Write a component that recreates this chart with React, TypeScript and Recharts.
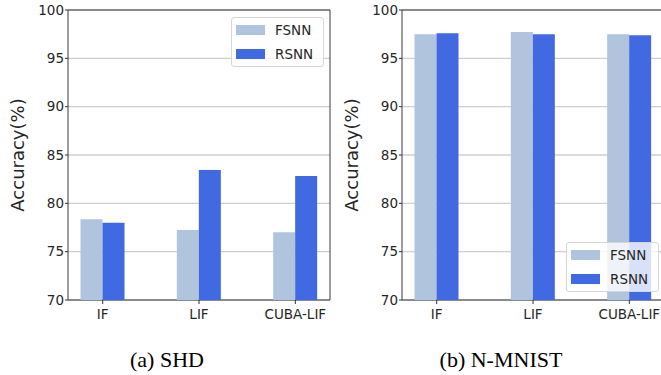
import React from "react"
import { BarChart, Bar, XAxis, YAxis, CartesianGrid, ReferenceArea, Legend } from "recharts"

const categories = ["IF", "LIF", "CUBA-LIF"]
const seriesNames = ["FSNN", "RSNN"]
const seriesColors = ["#b0c4de", "#4169e1"]

const shdFsnn = [78.35, 77.24, 77.0]
const shdRsnn = [78.0, 83.45, 82.83]
const nmnistFsnn = [97.49, 97.72, 97.49]
const nmnistRsnn = [97.59, 97.49, 97.38]

const yTicks = [70, 75, 80, 85, 90, 95, 100]
const xTicks = [0, 1, 2]
const xDomain: [number, number] = [-0.36, 2.36]
const yDomain: [number, number] = [70, 100]

const font = "'DejaVu Sans', sans-serif"
const textColor = "#262626"

const buildRows = (fsnn: number[], rsnn: number[]) =>
  categories.map((name, i) => ({ x: i, name, FSNN: fsnn[i], RSNN: rsnn[i] }))

const LegendBox = () => (
  <div
    style={{
      width: 91,
      height: 48,
      border: "1px solid #d6d6d6",
      borderRadius: 3,
      background: "rgba(255,255,255,0.8)",
      fontFamily: font,
      fontSize: 13.5,
      color: textColor,
      position: "relative",
    }}
  >
    {seriesNames.map((s, i) => (
      <div key={s} style={{ position: "absolute", left: 4, top: 6 + i * 23.5, height: 12, display: "flex", alignItems: "center" }}>
        <div style={{ width: 29, height: 10, background: seriesColors[i] }} />
        <span style={{ marginLeft: 10, lineHeight: "12px" }}>{s}</span>
      </div>
    ))}
  </div>
)

function AccuracyPanel({ fsnn, rsnn, legendPos }: { fsnn: number[]; rsnn: number[]; legendPos: { left: number; top: number } }) {
  const rows = buildRows(fsnn, rsnn)
  return (
    <BarChart width={340} height={330} data={rows} margin={{ top: 10, right: 10, left: 0, bottom: 0 }} barGap={0}>
      <CartesianGrid vertical={false} stroke="#cfcfcf" strokeWidth={1.3} />
      <XAxis
        dataKey="x"
        type="number"
        domain={xDomain}
        ticks={xTicks}
        allowDataOverflow
        height={30}
        tickSize={4}
        tickMargin={5}
        axisLine={false}
        tickLine={{ stroke: "#333" }}
        tick={{ fill: textColor, fontSize: 13.5, fontFamily: font }}
        tickFormatter={(v: number) => categories[v] ?? ""}
      />
      <YAxis
        type="number"
        domain={yDomain}
        ticks={yTicks}
        allowDataOverflow
        width={68}
        tickSize={3}
        tickMargin={1}
        axisLine={false}
        tickLine={{ stroke: "#333" }}
        tick={{ fill: textColor, fontSize: 13.5, fontFamily: font }}
        label={{
          content: (props: any) => {
            const vb = props.viewBox || { x: 0, y: 10, width: 68, height: 290 }
            const cx = vb.x + 17
            const cy = vb.y + vb.height / 2
            return (
              <text
                x={cx}
                y={cy}
                transform={`rotate(-90, ${cx}, ${cy})`}
                textAnchor="middle"
                dominantBaseline="central"
                fontSize={18}
                fontFamily={font}
                fill={textColor}
              >
                Accuracy(%)
              </text>
            )
          },
        }}
      />
      {seriesNames.map((s, i) => (
        <Bar key={s} dataKey={s} fill={seriesColors[i]} barSize={22} isAnimationActive={false} />
      ))}
      <ReferenceArea
        x1={xDomain[0]}
        x2={xDomain[1]}
        y1={yDomain[0]}
        y2={yDomain[1]}
        fill="none"
        stroke="#3a3a3a"
        strokeWidth={1}
        ifOverflow="visible"
      />
      <Legend
        layout="vertical"
        align="center"
        verticalAlign="middle"
        content={() => <LegendBox />}
        wrapperStyle={{ left: legendPos.left, top: legendPos.top, width: "auto", height: "auto" }}
      />
    </BarChart>
  )
}

const captionStyle: React.CSSProperties = {
  position: "absolute",
  top: 349,
  fontFamily: "'Liberation Serif', 'Times New Roman', serif",
  fontSize: 22,
  lineHeight: "22px",
  color: "#000",
  textAlign: "center",
  width: 200,
}

export default function App() {
  return (
    <div style={{ position: "absolute", left: 0, top: 0, width: 661, height: 375, overflow: "hidden", background: "#fff" }}>
      <div style={{ position: "absolute", left: 0, top: 0 }}>
        <AccuracyPanel fsnn={shdFsnn} rsnn={shdRsnn} legendPos={{ left: 231, top: 17 }} />
      </div>
      <div style={{ position: "absolute", left: 334, top: 0 }}>
        <AccuracyPanel fsnn={nmnistFsnn} rsnn={nmnistRsnn} legendPos={{ left: 232, top: 242 }} />
      </div>
      <div style={{ ...captionStyle, left: 167 - 100 }}>(a) SHD</div>
      <div style={{ ...captionStyle, left: 501 - 100 }}>(b) N-MNIST</div>
    </div>
  )
}
